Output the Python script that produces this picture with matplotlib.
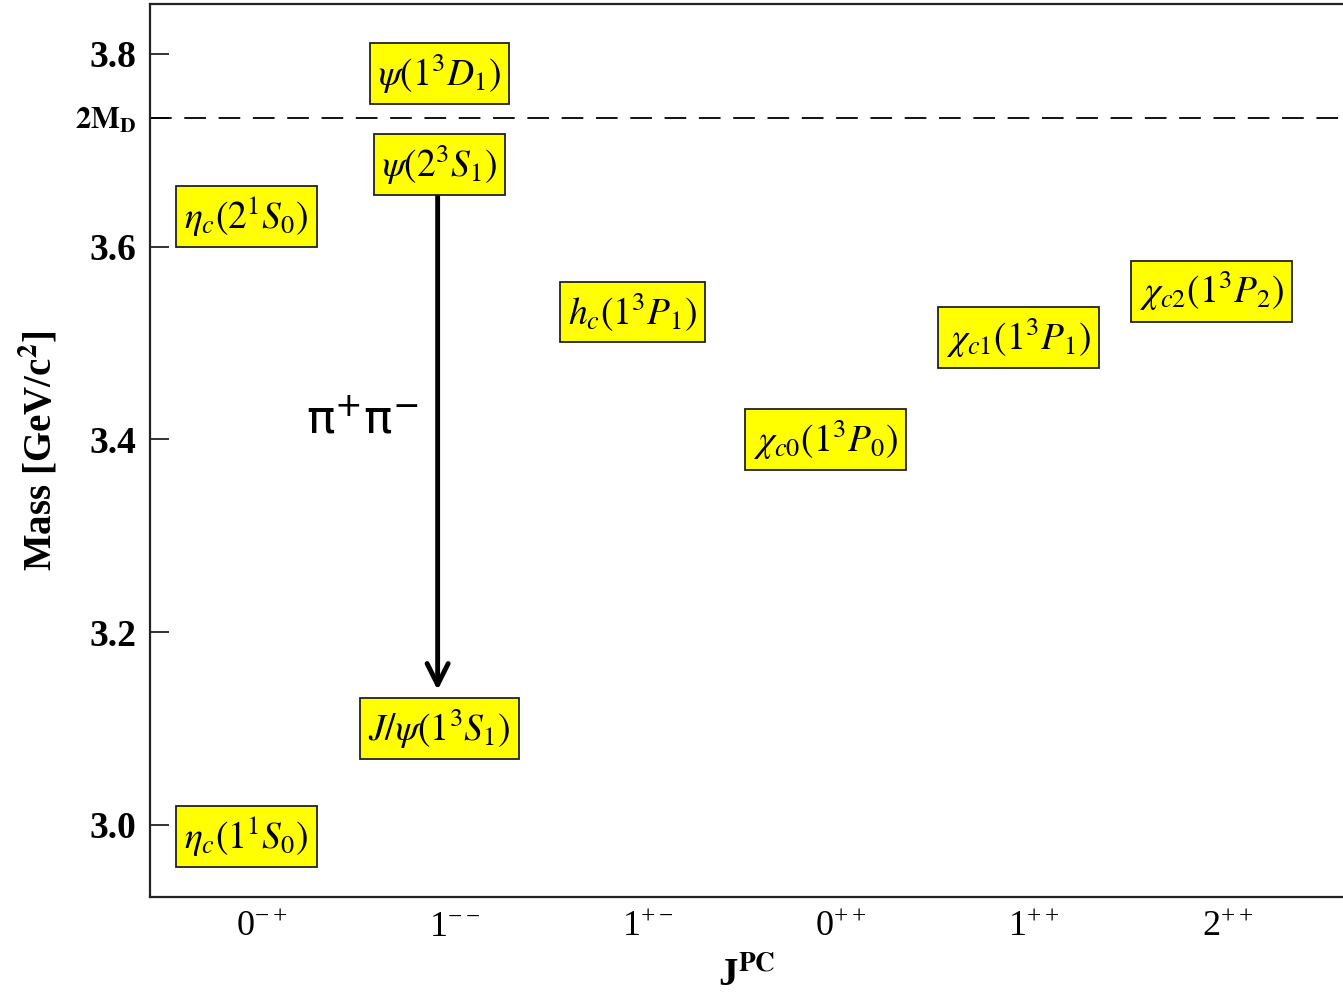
import matplotlib
matplotlib.use("Agg")
import matplotlib.pyplot as plt

# charmonium states below / around open charm threshold
jpc_labels = [r'$\mathregular{0^{-+}}$', r'$\mathregular{1^{--}}$', r'$\mathregular{1^{+-}}$',
              r'$\mathregular{0^{++}}$', r'$\mathregular{1^{++}}$', r'$\mathregular{2^{++}}$']
state_names = [r'$\eta_c(1^1S_0)$', r'$J/\psi(1^3S_1)$', r'$\eta_c(2^1S_0)$',
               r'$\psi(2^3S_1)$', r'$\psi(1^3D_1)$', r'$h_c(1^3P_1)$',
               r'$\chi_{c0}(1^3P_0)$', r'$\chi_{c1}(1^3P_1)$', r'$\chi_{c2}(1^3P_2)$']
state_jpc = [0, 1, 0, 1, 1, 2, 3, 4, 5]
state_mass = [2.988, 3.100, 3.631, 3.685, 3.780, 3.532, 3.400, 3.506, 3.554]
mass_ticks = [3.0, 3.2, 3.4, 3.6, 3.8]
threshold = 3.734   # 2 M_D
transition = (3.682, 3.140)   # psi(2S) -> J/psi pi+ pi-

plt.rcParams['font.family'] = ['Liberation Serif', 'DejaVu Serif']
plt.rcParams['mathtext.fontset'] = 'stix'

fig = plt.figure(figsize=(13.43, 9.93), dpi=100)
ax = fig.add_axes([0.1117, 0.0967, 0.8883, 0.8993])
ax.set_xlim(-0.58, 5.60)
ax.set_ylim(2.9253, 3.8519)

for s in ['top', 'left', 'bottom']:
    ax.spines[s].set_linewidth(1.6)
    ax.spines[s].set_color('#222222')
ax.spines['right'].set_visible(False)

ax.axhline(threshold, color='black', lw=1.3, dashes=(12, 7))

ax.set_yticks(mass_ticks + [threshold])
ax.set_yticklabels(['%.1f' % m for m in mass_ticks] + [r'$\mathbf{2M_D}$'], fontweight='bold')
ylab = ax.get_yticklabels()
for t in ylab[:-1]:
    t.set_fontsize(27)
ylab[-1].set_fontsize(22)
ax.tick_params(axis='y', direction='in', length=14, width=1.3, pad=10, color='#222222')

ax.set_xticks(range(len(jpc_labels)))
ax.set_xticklabels(jpc_labels, fontsize=26)
ax.tick_params(axis='x', length=0, pad=10)

ax.set_ylabel(r'Mass [GeV/c$^\mathbf{2}$]', fontsize=28, fontweight='bold', labelpad=10)
ax.set_xlabel(r'J$^\mathbf{PC}$', fontsize=28, fontweight='bold', labelpad=10)

for name, j, m in zip(state_names, state_jpc, state_mass):
    ax.text(j - 0.08, m, name, fontsize=27, ha='center', va='center', zorder=5,
            bbox=dict(boxstyle='square,pad=0.22', fc='#ffff00', ec='#222222', lw=1.3))

ax.annotate('', xy=(0.91, transition[1]), xytext=(0.91, transition[0]),
            arrowprops=dict(arrowstyle='->', lw=3.5, color='black', mutation_scale=38,
                            shrinkA=0, shrinkB=0), zorder=3)
ax.text(0.52, 3.418, r'$\mathrm{\pi}^{+}\mathrm{\pi}^{-}$', fontsize=34, ha='center', va='center',
        math_fontfamily='dejavusans')

fig.savefig('out.png', dpi=100)
